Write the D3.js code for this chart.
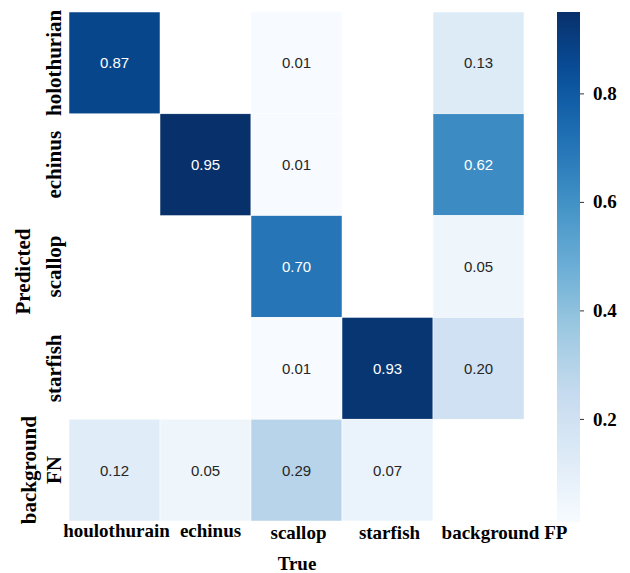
<!DOCTYPE html>
<html>
<head>
<meta charset="utf-8">
<script src="https://cdn.jsdelivr.net/npm/d3@7"></script>
<style>
  html, body { margin: 0; padding: 0; background: #fff; }
  svg { display: block; }
</style>
</head>
<body>
<svg id="chart" width="630" height="573"></svg>
<script>
// Confusion matrix (rows: predicted class, columns: true class); null = empty cell
const trueLabels = ["houlothurain", "echinus", "scallop", "starfish", "background FP"];
const predLabels = [["holothurian"], ["echinus"], ["scallop"], ["starfish"], ["background", "FN"]];
const rowHolothurian = [0.87, null, 0.01, null, 0.13];
const rowEchinus     = [null, 0.95, 0.01, null, 0.62];
const rowScallop     = [null, null, 0.70, null, 0.05];
const rowStarfish    = [null, null, 0.01, 0.93, 0.20];
const rowBackground  = [0.12, 0.05, 0.29, 0.07, null];
const colorbarTicks  = [0.2, 0.4, 0.6, 0.8];

const matrix = [rowHolothurian, rowEchinus, rowScallop, rowStarfish, rowBackground];

const svg = d3.select("#chart");
const serif = "'Liberation Serif', 'Times New Roman', serif";
const sans = "'Liberation Sans', Arial, sans-serif";

// grid area
const gx0 = 69, gx1 = 524, gy0 = 12, gy1 = 521;

const x = d3.scaleBand().domain(d3.range(trueLabels.length)).range([gx0, gx1]);
const y = d3.scaleBand().domain(d3.range(predLabels.length)).range([gy0, gy1]);

const values = matrix.flat().filter(v => v !== null);
const vmin = d3.min(values), vmax = d3.max(values);

// matplotlib-style "Blues" ramp
const bluesStops = ["#f7fbff", "#deebf7", "#c6dbef", "#9ecae1", "#6baed6", "#4292c6", "#2171b5", "#08519c", "#08306b"];
const ramp = d3.scaleLinear()
  .domain(d3.range(bluesStops.length).map(i => i / (bluesStops.length - 1)))
  .range(bluesStops)
  .interpolate(d3.interpolateRgb)
  .clamp(true);
const norm = d3.scaleLinear().domain([vmin, vmax]).range([0, 1]).clamp(true);
const color = v => ramp(norm(v));

const cells = [];
matrix.forEach((row, r) => row.forEach((v, c) => { if (v !== null) cells.push({ r, c, v }); }));

svg.append("g").selectAll("rect").data(cells).join("rect")
  .attr("x", d => x(d.c))
  .attr("y", d => y(d.r))
  .attr("width", x.bandwidth())
  .attr("height", y.bandwidth())
  .attr("fill", d => color(d.v))
  .attr("stroke", "#ffffff")
  .attr("stroke-width", 0.5);

svg.append("g").selectAll("text").data(cells).join("text")
  .attr("x", d => x(d.c) + x.bandwidth() / 2)
  .attr("y", d => y(d.r) + y.bandwidth() / 2)
  .attr("text-anchor", "middle")
  .attr("dominant-baseline", "central")
  .attr("font-family", sans)
  .attr("font-size", 15)
  .attr("fill", d => norm(d.v) > 0.55 ? "#ffffff" : "#262626")
  .text(d => d3.format(".2f")(d.v));

// y tick labels (rotated)
const yLab = svg.append("g")
  .attr("font-family", serif).attr("font-weight", "bold").attr("font-size", 21).attr("fill", "#000");
predLabels.forEach((lines, r) => {
  const cy = y(r) + y.bandwidth() / 2;
  const n = lines.length;
  lines.forEach((t, i) => {
    const bx = 61 - (n - 1 - i) * 25;
    yLab.append("text")
      .attr("transform", `translate(${bx},${cy}) rotate(-90)`)
      .attr("text-anchor", "middle")
      .text(t);
  });
});
svg.append("text")
  .attr("transform", `translate(30,${(gy0 + gy1) / 2 + 5}) rotate(-90)`)
  .attr("text-anchor", "middle")
  .attr("font-family", serif).attr("font-weight", "bold").attr("font-size", 21)
  .text("Predicted");

// x tick labels
const xNudge = i => i === trueLabels.length - 1 ? 26 : (i === 1 ? 5 : 2);
svg.append("g")
  .attr("font-family", serif).attr("font-weight", "bold").attr("font-size", 19)
  .selectAll("text").data(trueLabels).join("text")
  .attr("x", (d, i) => x(i) + x.bandwidth() / 2 + xNudge(i))
  .attr("y", (d, i) => i < 2 ? 537 : 539)
  .attr("text-anchor", "middle")
  .text(d => d);
svg.append("text")
  .attr("x", 297).attr("y", 570)
  .attr("text-anchor", "middle")
  .attr("font-family", serif).attr("font-weight", "bold").attr("font-size", 19)
  .text("True");

// colorbar
const cbx = 557, cbw = 23, cby0 = 12, cby1 = 522;
const defs = svg.append("defs");
const grad = defs.append("linearGradient").attr("id", "cbgrad")
  .attr("x1", 0).attr("y1", 1).attr("x2", 0).attr("y2", 0);
d3.range(0, 1.0001, 0.05).forEach(t => {
  grad.append("stop").attr("offset", t).attr("stop-color", ramp(t));
});
svg.append("rect")
  .attr("x", cbx).attr("y", cby0).attr("width", cbw).attr("height", cby1 - cby0)
  .attr("fill", "url(#cbgrad)");

const cbScale = d3.scaleLinear().domain([vmin, vmax]).range([cby1, cby0]);
const cbAxis = svg.append("g")
  .attr("transform", `translate(${cbx + cbw},0)`)
  .call(d3.axisRight(cbScale).tickValues(colorbarTicks).tickFormat(d3.format(".1f")).tickSize(4).tickPadding(9));
cbAxis.select(".domain").remove();
cbAxis.selectAll(".tick line").attr("stroke", "#333");
cbAxis.selectAll(".tick text")
  .attr("font-family", serif).attr("font-weight", "bold").attr("font-size", 19).attr("fill", "#000");
</script>
</body>
</html>
